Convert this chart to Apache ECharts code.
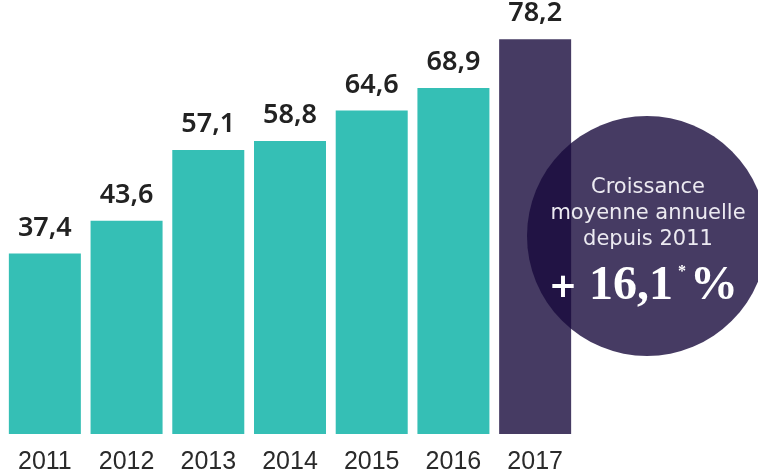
<!DOCTYPE html>
<html>
<head>
<meta charset="utf-8">
<script src="https://cdn.jsdelivr.net/npm/echarts@6/dist/echarts.min.js"></script>
<style>
html,body{margin:0;padding:0;background:#fff;}
#chart{width:758px;height:472px;}
</style>
</head>
<body>
<div id="chart"></div>
<script>
const years = ['2011','2012','2013','2014','2015','2016','2017'];
const values = [37.4, 43.6, 57.1, 58.8, 64.6, 68.9, 78.2];
const highlightYear = '2017';
const circleLines = ['Croissance', 'moyenne annuelle', 'depuis 2011'];
const growthValue = '16,1';

const teal = '#35bfb5';
const purple = '#463b63';

const chart = echarts.init(document.getElementById('chart'));
chart.setOption({
  animation: false,
  grid: {left: 4, right: 182, top: 4, bottom: 38, containLabel: false, outerBoundsMode: 'none'},
  xAxis: {
    type: 'category',
    data: years,
    axisLine: {show: false},
    axisTick: {show: false},
    axisLabel: {
      color: '#2a2a2a',
      fontFamily: 'Liberation Sans',
      fontSize: 25,
      margin: 16
    }
  },
  yAxis: {
    type: 'value',
    min: 3,
    max: 84.9,
    show: false,
    splitLine: {show: false}
  },
  series: [{
    type: 'bar',
    barWidth: 72,
    data: values.map((v, i) => ({
      value: v,
      itemStyle: {color: years[i] === highlightYear ? purple : teal}
    })),
    label: {
      show: true,
      position: 'top',
      distance: 12,
      color: '#222',
      fontFamily: 'Noto Sans',
      fontWeight: 600,
      fontSize: 27,
      formatter: p => String(p.value).replace('.', ',')
    }
  }],
  graphic: [
    {
      type: 'circle',
      z: 100,
      shape: {cx: 647, cy: 236, r: 120},
      style: {fill: 'rgba(24,10,60,0.8)'}
    },
    {
      type: 'text', z: 101, x: 648, y: 188,
      style: {text: circleLines[0], fill: '#eceaf1', font: '21px "DejaVu Sans"', align: 'center', verticalAlign: 'middle'}
    },
    {
      type: 'text', z: 101, x: 648, y: 214,
      style: {text: circleLines[1], fill: '#eceaf1', font: '21px "DejaVu Sans"', align: 'center', verticalAlign: 'middle'}
    },
    {
      type: 'text', z: 101, x: 648, y: 240,
      style: {text: circleLines[2], fill: '#eceaf1', font: '21px "DejaVu Sans"', align: 'center', verticalAlign: 'middle'}
    },
    {
      type: 'text', z: 101, x: 563, y: 288,
      style: {text: '+', fill: '#ffffff', font: 'bold 34px "DejaVu Sans"', align: 'center', verticalAlign: 'middle'}
    },
    {
      type: 'text', z: 101, x: 589, y: 287,
      style: {text: growthValue, fill: '#ffffff', font: 'bold 48px "Liberation Serif"', align: 'left', verticalAlign: 'middle'}
    },
    {
      type: 'text', z: 101, x: 682, y: 272,
      style: {text: '*', fill: '#ffffff', font: 'bold 16px "Liberation Serif"', align: 'center', verticalAlign: 'middle'}
    },
    {
      type: 'text', z: 101, x: 690, y: 287,
      style: {text: '%', fill: '#ffffff', font: 'bold 48px "Liberation Serif"', align: 'left', verticalAlign: 'middle'}
    }
  ]
});
</script>
</body>
</html>
